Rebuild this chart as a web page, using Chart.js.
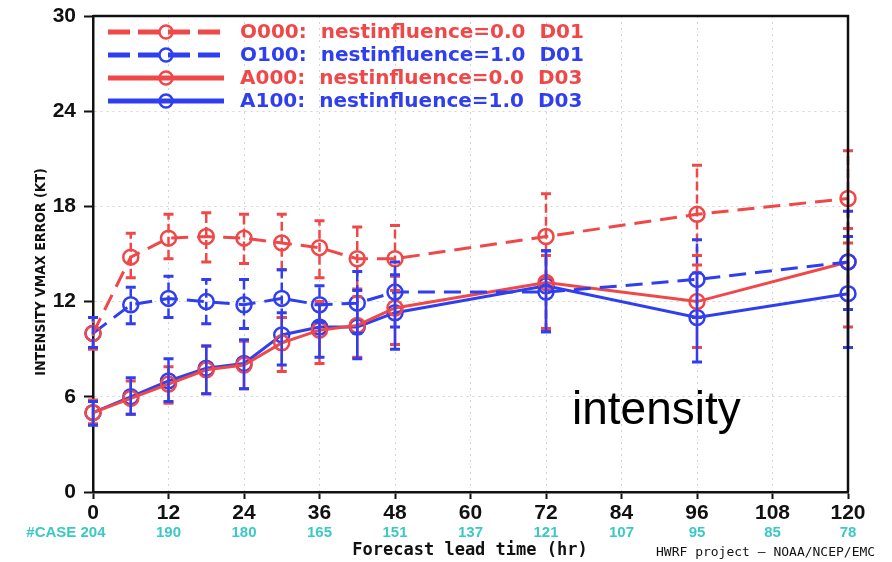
<!DOCTYPE html>
<html>
<head>
<meta charset="utf-8">
<script src="https://cdn.jsdelivr.net/npm/chart.js@4.4.1/dist/chart.umd.min.js"></script>
<style>
html,body{margin:0;padding:0;background:#fff;}
#wrap{width:892px;height:562px;position:relative;}
</style>
</head>
<body>
<div id="wrap"><canvas id="c" width="892" height="562"></canvas></div>
<script>
// ---- data ----
const hours = [0, 6, 12, 18, 24, 30, 36, 42, 48, 72, 96, 120];
const xTicks = [0, 12, 24, 36, 48, 60, 72, 84, 96, 108, 120];
const caseCounts = [204, 190, 180, 165, 151, 137, 121, 107, 95, 85, 78];
const yTicks = [0, 6, 12, 18, 24, 30];

const seriesNames = [
  "O000:  nestinfluence=0.0  D01",
  "O100:  nestinfluence=1.0  D01",
  "A000:  nestinfluence=0.0  D03",
  "A100:  nestinfluence=1.0  D03"
];

const o000 = [10.0, 14.8, 16.0, 16.1, 16.0, 15.7, 15.4, 14.7, 14.7, 16.1, 17.5, 18.5];
const o000Lo = [9.0, 13.5, 14.7, 14.5, 14.4, 14.0, 13.5, 12.8, 12.7, 13.5, 14.9, 15.7];
const o000Hi = [11.0, 16.3, 17.5, 17.6, 17.5, 17.5, 17.1, 16.7, 16.8, 18.8, 20.6, 21.5];

const o100 = [10.0, 11.8, 12.2, 12.0, 11.8, 12.2, 11.8, 11.9, 12.6, 12.6, 13.4, 14.5];
const o100Lo = [9.1, 10.6, 11.0, 10.6, 10.3, 11.0, 10.7, 10.0, 10.4, 10.1, 11.0, 11.5];
const o100Hi = [11.0, 12.9, 13.6, 13.4, 13.4, 14.0, 13.0, 13.9, 14.5, 15.2, 15.9, 17.7];

const a000 = [5.0, 5.9, 6.8, 7.7, 8.0, 9.4, 10.2, 10.5, 11.6, 13.2, 12.0, 14.5];
const a000Lo = [4.3, 4.9, 5.6, 6.2, 6.5, 7.6, 8.1, 8.5, 9.3, 10.3, 9.1, 10.4];
const a000Hi = [5.8, 7.0, 7.9, 9.2, 9.5, 11.0, 12.0, 12.3, 13.6, 14.9, 14.3, 16.6];

const a100 = [5.0, 6.0, 7.0, 7.8, 8.1, 9.9, 10.4, 10.4, 11.3, 13.0, 11.0, 12.5];
const a100Lo = [4.2, 4.9, 5.7, 6.2, 6.5, 8.0, 8.5, 8.4, 9.0, 10.1, 8.2, 9.1];
const a100Hi = [5.7, 7.2, 8.4, 9.2, 9.6, 11.3, 11.8, 12.7, 13.7, 15.2, 13.8, 16.1];

// ---- styles ----
const RED = '#f04848';
const BLUE = '#2f3ff0';
const TEAL = '#3cc8c4';
const DASH = [17, 9];

const values = [o000, o100, a000, a100];
const lows = [o000Lo, o100Lo, a000Lo, a100Lo];
const highs = [o000Hi, o100Hi, a000Hi, a100Hi];
const colors = [RED, BLUE, RED, BLUE];
const dashed = [true, true, false, false];

const datasets = values.map((v, k) => ({
  label: seriesNames[k],
  data: hours.map((h, i) => ({x: h, y: v[i]})),
  borderColor: colors[k],
  backgroundColor: 'rgba(0,0,0,0)',
  borderWidth: 3,
  borderDash: dashed[k] ? DASH : [],
  pointStyle: 'circle',
  pointRadius: 7.5,
  pointBorderWidth: 2.5,
  pointBorderColor: colors[k],
  pointBackgroundColor: 'rgba(0,0,0,0)',
  tension: 0,
  clip: false
}));

const errorBars = {
  id: 'errorBars',
  afterDatasetsDraw(chart) {
    const ctx = chart.ctx, xs = chart.scales.x, ys = chart.scales.y;
    values.forEach((v, k) => {
      ctx.save();
      ctx.strokeStyle = colors[k];
      hours.forEach((h, i) => {
        const px = xs.getPixelForValue(h);
        const pl = ys.getPixelForValue(lows[k][i]);
        const ph = ys.getPixelForValue(highs[k][i]);
        ctx.lineWidth = 2.5;
        ctx.setLineDash(dashed[k] ? [9, 4] : []);
        ctx.beginPath(); ctx.moveTo(px, pl); ctx.lineTo(px, ph); ctx.stroke();
        ctx.setLineDash([]);
        ctx.lineWidth = 3;
        ctx.beginPath();
        ctx.moveTo(px - 5, pl); ctx.lineTo(px + 5, pl);
        ctx.moveTo(px - 5, ph); ctx.lineTo(px + 5, ph);
        ctx.stroke();
      });
      ctx.restore();
    });
  }
};

const decorations = {
  id: 'decorations',
  afterDraw(chart) {
    const ctx = chart.ctx, xs = chart.scales.x, a = chart.chartArea;
    ctx.save();
    // frame top/right
    ctx.strokeStyle = '#111';
    ctx.lineWidth = 2.5;
    ctx.setLineDash([]);
    ctx.beginPath();
    ctx.moveTo(a.left, a.top); ctx.lineTo(a.right, a.top); ctx.lineTo(a.right, a.bottom);
    ctx.stroke();

    // case counts
    ctx.fillStyle = TEAL;
    ctx.font = 'bold 15px "Liberation Sans", Arial, sans-serif';
    ctx.textBaseline = 'middle';
    ctx.textAlign = 'center';
    xTicks.forEach((h, i) => {
      ctx.fillText(String(caseCounts[i]), xs.getPixelForValue(h), 533);
    });
    ctx.textAlign = 'right';
    const w0 = ctx.measureText(String(caseCounts[0])).width;
    ctx.fillText('#CASE ', xs.getPixelForValue(xTicks[0]) - w0 / 2, 533);

    // x title
    ctx.fillStyle = '#111';
    ctx.textAlign = 'center';
    ctx.font = 'bold 17px "DejaVu Sans Mono", monospace';
    ctx.fillText('Forecast lead time (hr)', 470, 551);
    ctx.font = '13px "DejaVu Sans Mono", monospace';
    ctx.textAlign = 'left';
    ctx.fillText('HWRF project \u2013 NOAA/NCEP/EMC', 656, 553, 226);

    // y title
    ctx.save();
    ctx.translate(41, 272);
    ctx.rotate(-Math.PI / 2);
    ctx.textAlign = 'center';
    ctx.font = 'bold 14px "Liberation Sans Narrow", "DejaVu Sans Condensed", sans-serif';
    ctx.fillText('INTENSITY VMAX ERROR (KT)', 0, 0);
    ctx.restore();

    // legend
    const rows = [32, 55, 78, 101];
    rows.forEach((ry, k) => {
      ctx.strokeStyle = colors[k];
      ctx.lineWidth = 5;
      ctx.setLineDash(dashed[k] ? [22, 8] : []);
      ctx.beginPath(); ctx.moveTo(108, ry); ctx.lineTo(224, ry); ctx.stroke();
      ctx.setLineDash([]);
      ctx.lineWidth = 2.5;
      ctx.beginPath(); ctx.arc(166, ry, 6.5, 0, Math.PI * 2); ctx.stroke();
      ctx.fillStyle = colors[k];
      ctx.font = 'bold 20px "DejaVu Sans", Verdana, sans-serif';
      ctx.textAlign = 'left';
      ctx.textBaseline = 'middle';
      ctx.fillText(seriesNames[k], 240, ry + 1, 346);
    });

    // annotation
    ctx.fillStyle = '#000';
    ctx.font = '46px "Liberation Sans", Arial, sans-serif';
    ctx.textBaseline = 'alphabetic';
    ctx.textAlign = 'left';
    ctx.fillText('intensity', 572, 424);
    ctx.restore();
  }
};

new Chart(document.getElementById('c'), {
  type: 'line',
  data: { datasets },
  plugins: [errorBars, decorations],
  options: {
    responsive: false,
    animation: false,
    devicePixelRatio: 1,
    layout: { padding: { left: 0, right: 44, top: 16, bottom: 0 } },
    plugins: { legend: { display: false }, tooltip: { enabled: false } },
    scales: {
      x: {
        type: 'linear',
        min: 0, max: 120,
        afterFit(s) { s.height = 70; },
        afterBuildTicks(s) { s.ticks = xTicks.map(v => ({value: v})); },
        ticks: {
          color: '#111',
          font: { family: '"Liberation Sans", Arial, sans-serif', size: 21, weight: 'bold' },
          padding: 2,
          maxRotation: 0,
          autoSkip: false
        },
        grid: {
          color: '#d4d4d4',
          lineWidth: 1,
          tickColor: '#111',
          tickLength: 7,
          tickWidth: 2,
          tickBorderDash: []
        },
        border: { color: '#111', width: 2.5, dash: [2, 4] }
      },
      y: {
        min: 0, max: 30,
        afterFit(s) { s.width = 93; s.paddingTop = 0; s.paddingBottom = 0; },
        afterBuildTicks(s) { s.ticks = yTicks.map(v => ({value: v})); },
        ticks: {
          color: '#111',
          font: { family: '"Liberation Sans", Arial, sans-serif', size: 21, weight: 'bold' },
          padding: 8
        },
        grid: {
          color: '#d4d4d4',
          lineWidth: 1,
          tickColor: '#111',
          tickLength: 9,
          tickWidth: 2,
          tickBorderDash: []
        },
        border: { color: '#111', width: 2.5, dash: [2, 4] }
      }
    }
  }
});
</script>
</body>
</html>
